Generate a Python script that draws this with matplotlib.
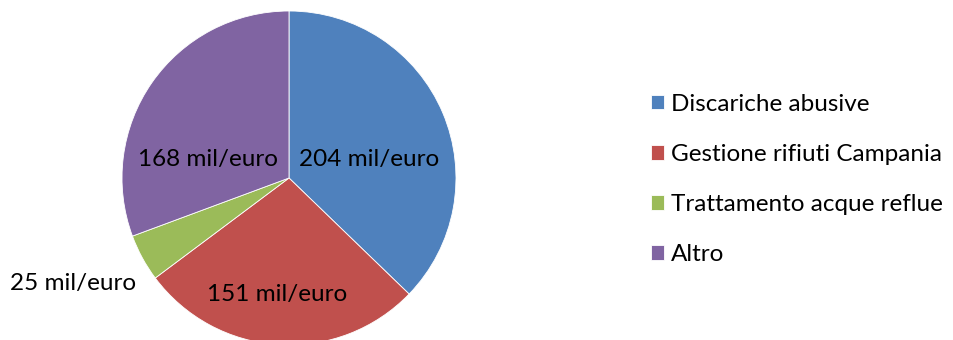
import matplotlib.pyplot as plt
import numpy as np

labels = ['Discariche abusive', 'Gestione rifiuti Campania',
          'Trattamento acque reflue', 'Altro']
values = [204, 151, 25, 168]
colors = ['#4F81BD', '#C0504D', '#9BBB59', '#8064A2']

# where each value label sits: angle (deg) and distance in radii from centre
lab_ang = [13, -96, -154, 167]
lab_dist = [0.49, 0.70, 1.44, 0.50]

plt.rcParams['font.family'] = ['Lato', 'DejaVu Sans']

fig = plt.figure(figsize=(9.54, 3.4), dpi=100)
ax = fig.add_axes([0, 0, 1, 1])

# pie sits in pixel coords: centre (289, 178 from top), radius 167
cx, cy, R = 289, 162, 167
wedges, texts = ax.pie(values, colors=colors, startangle=90, counterclock=False,
                       center=(cx, cy), radius=R,
                       wedgeprops=dict(edgecolor='white', linewidth=0.6),
                       frame=True)
ax.set_xlim(0, 954)
ax.set_ylim(0, 340)
ax.axis('off')

for v, a, d in zip(values, lab_ang, lab_dist):
    t = np.deg2rad(a)
    ax.text(cx + d * R * np.cos(t), cy + d * R * np.sin(t), '%d mil/euro' % v,
            ha='center', va='center', fontsize=17.5, color='black')

leg = ax.legend(wedges, labels, loc='center left', bbox_to_anchor=(641 / 954, 0.472),
                frameon=False, fontsize=17.5, handlelength=0.55, handleheight=0.55,
                handletextpad=0.3, labelspacing=1.2, borderaxespad=0)

plt.savefig('out.png', dpi=100)
